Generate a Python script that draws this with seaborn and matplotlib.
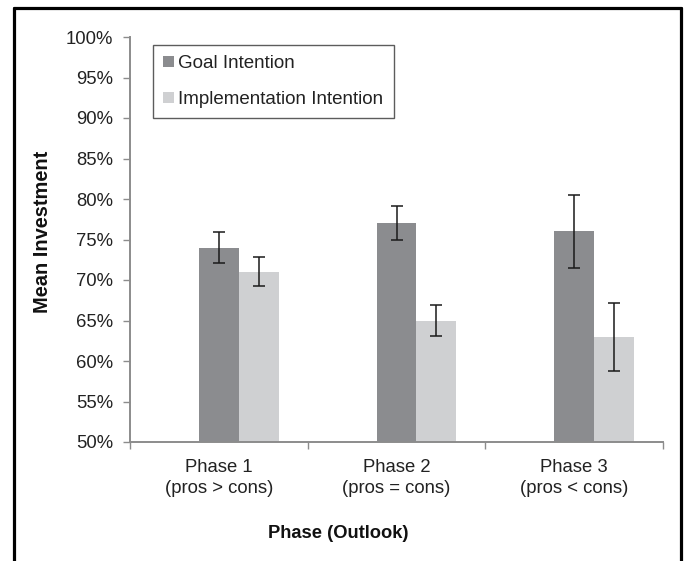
import matplotlib
matplotlib.use('Agg')
import matplotlib.pyplot as plt
import matplotlib.ticker as mticker
from matplotlib.lines import Line2D
from matplotlib.patches import Patch
import seaborn as sns
import pandas as pd

phases = ['Phase 1\n(pros > cons)', 'Phase 2\n(pros = cons)', 'Phase 3\n(pros < cons)']
goal_mean = [74, 77, 76]
goal_err = [1.9, 2.1, 4.5]
impl_mean = [71, 65, 63]
impl_err = [1.8, 1.9, 4.2]
conditions = ['Goal Intention', 'Implementation Intention']
colors = ['#8b8c8f', '#cfd0d2']

df = pd.DataFrame({
    'phase': phases * 2,
    'condition': [conditions[0]] * 3 + [conditions[1]] * 3,
    'mean': goal_mean + impl_mean,
    'err': goal_err + impl_err,
})

sns.set_theme(style='white')
plt.rcParams['font.family'] = ['Liberation Sans', 'DejaVu Sans']

fig = plt.figure(figsize=(6.87, 5.61), dpi=100)
ax = fig.add_axes([130 / 687, 1 - 442 / 561, 533 / 687, 405 / 561])

# empty first hue level keeps the offset Excel left for a blank series
hue_order = [' '] + conditions
sns.barplot(data=df, x='phase', y='mean', hue='condition', hue_order=hue_order,
            palette=['white'] + colors, width=0.675, errorbar=None,
            saturation=1, legend=False, ax=ax, linewidth=0)

bar_conts = [c for c in ax.containers if len(c.patches) == len(phases)]
for cont, cond in zip(bar_conts, conditions):
    sub = df[df['condition'] == cond]
    xs = [p.get_x() + p.get_width() / 2 for p in cont.patches]
    ax.errorbar(xs, sub['mean'], yerr=sub['err'], fmt='none', ecolor='#1a1a1a',
                elinewidth=1.1, capsize=4, capthick=1.1, zorder=5)

ax.set_ylim(50, 100)
ax.set_xlim(-0.5, 2.5)
ax.yaxis.set_major_locator(mticker.MultipleLocator(5))
ax.yaxis.set_major_formatter(mticker.PercentFormatter(decimals=0))

ax.xaxis.set_minor_locator(mticker.FixedLocator([-0.5, 0.5, 1.5, 2.5]))
ax.tick_params(axis='x', which='major', length=0, pad=12.5, labelsize=13.3, colors='#222222')
ax.tick_params(axis='x', which='minor', length=5, width=1, color='#8c8c8c', direction='out')
ax.tick_params(axis='y', length=5, width=1, color='#8c8c8c', direction='out',
               labelsize=13.3, labelcolor='#222222', pad=7)
ax.tick_params(bottom=True, left=True, which='both')
for lbl in ax.get_xticklabels():
    lbl.set_linespacing(1.25)

for side in ['top', 'right']:
    ax.spines[side].set_visible(False)
for side in ['left', 'bottom']:
    ax.spines[side].set_color('#8c8c8c')
    ax.spines[side].set_linewidth(1.4)

ax.set_xlabel('Phase (Outlook)', fontsize=13.2, fontweight='bold', color='#111111')
ax.xaxis.set_label_coords(0.39, -0.205)
ax.set_ylabel('Mean Investment', fontsize=14.4, fontweight='bold', color='#111111')
ax.yaxis.set_label_coords(-0.146, 0.52)

handles = [Patch(facecolor=c, edgecolor='none') for c in colors]
leg = ax.legend(handles, conditions, loc='upper left', bbox_to_anchor=(0.043, 0.98),
                fontsize=13.5, frameon=True, fancybox=False, handlelength=0.55,
                handleheight=0.55, handletextpad=0.25, labelspacing=1.0,
                borderpad=0.55, borderaxespad=0)
leg.get_frame().set_edgecolor('#333333')
leg.get_frame().set_linewidth(1)
for t in leg.get_texts():
    t.set_color('#222222')

# black frame around the figure, open at the bottom
x0, x1, ytop = 14 / 687, 681 / 687, 1 - 8 / 561
for xs, ys in [([x0, x1], [ytop, ytop]), ([x0, x0], [ytop, 0]), ([x1, x1], [ytop, 0])]:
    fig.add_artist(Line2D(xs, ys, color='black', linewidth=2.3, transform=fig.transFigure))

plt.savefig('out.png', dpi=100)
